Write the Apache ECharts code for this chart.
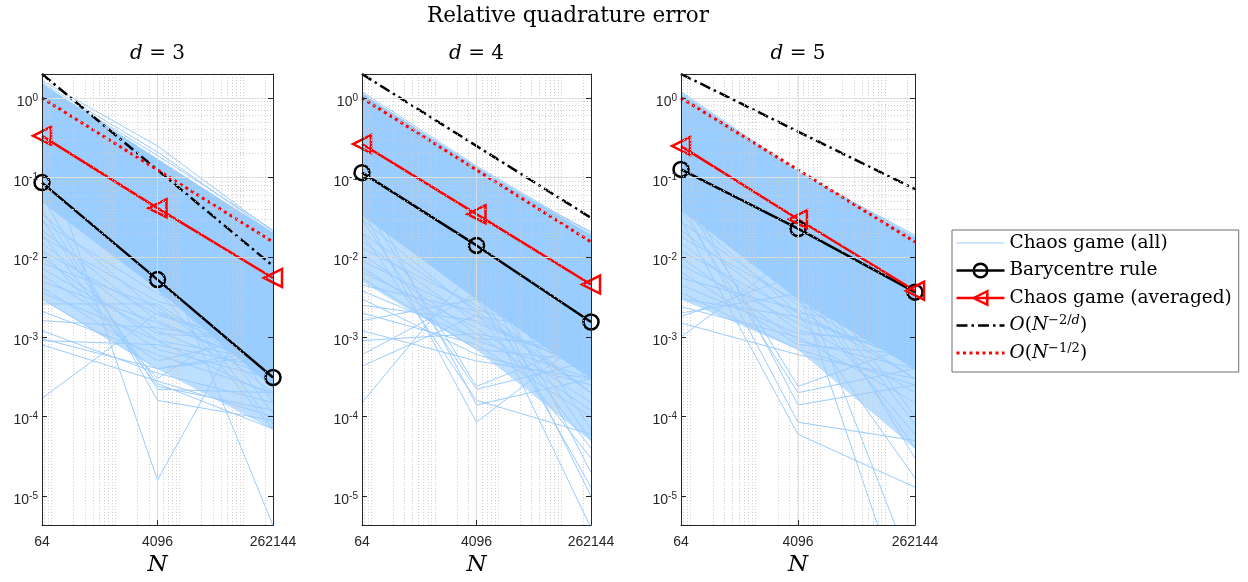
<!DOCTYPE html>
<html>
<head>
<meta charset="utf-8">
<script src="https://cdn.jsdelivr.net/npm/echarts@6/dist/echarts.min.js"></script>
<style>
html,body{margin:0;padding:0;background:#fff;}
#chart{width:1248px;height:582px;}
</style>
</head>
<body>
<div id="chart"></div>
<script>
// ---------------- data ----------------
const N_VALUES = [64, 4096, 262144];
const X_TICK_LABELS = ['64', '4096', '262144'];
const X_MAJOR_GRID = [4096];
const Y_DECADES = [1e-5, 1e-4, 1e-3, 1e-2, 1e-1, 1];
const X_DECADES = [10, 100, 1000, 10000, 100000];
const Y_MINOR_DECADES = [1e-6, 1e-5, 1e-4, 1e-3, 1e-2, 1e-1];
const MINOR_STEPS = [2, 3, 4, 5, 6, 7, 8, 9];
const X_MIN = 64, X_MAX = 262144;
const Y_MIN = 4.35e-6, Y_MAX = 2;
const DIMS = ['3', '4', '5'];

const BARY_D3 = [0.0866, 0.00525, 0.00031];
const BARY_D4 = [0.1155, 0.0141, 0.00154];
const BARY_D5 = [0.127, 0.0229, 0.00365];

const AVG_D3 = [0.335, 0.0414, 0.0055];
const AVG_D4 = [0.264, 0.0348, 0.00455];
const AVG_D5 = [0.249, 0.030, 0.0038];

const RATE_2D_D3 = [2.0, 0.125, 0.0078];
const RATE_2D_D4 = [2.0, 0.25, 0.03125];
const RATE_2D_D5 = [2.0, 0.379, 0.0718];
const RATE_HALF = [1.0, 0.125, 0.0156];

// dense core of the individual chaos-game runs (upper / lower edge) and the thinner lower fringe
const BAND_UPPER_D3 = [1.5, 0.17, 0.02];
const BAND_LOWER_D3 = [0.05, 0.004, 0.00023];
const FRINGE_LOWER_D3 = [0.003, 0.0004, 0.00007];
const BAND_UPPER_D4 = [1.12, 0.135, 0.019];
const BAND_LOWER_D4 = [0.034, 0.003, 0.0003];
const FRINGE_LOWER_D4 = [0.005, 0.0007, 0.00005];
const BAND_UPPER_D5 = [1.12, 0.115, 0.0175];
const BAND_LOWER_D5 = [0.04, 0.003, 0.0004];
const FRINGE_LOWER_D5 = [0.003, 0.0007, 0.00004];

// individual visible runs [N=64, N=4096, N=262144]
const RUNS_D3 = [
  [1.65, 0.25, 0.021], [1.55, 0.21, 0.020], [1.45, 0.19, 0.022],
  [0.035, 0.0021, 0.0006], [0.028, 0.0035, 0.0009], [0.022, 0.0016, 0.0004],
  [0.018, 0.0028, 0.0012], [0.015, 0.0012, 0.0003], [0.012, 0.0019, 0.0007],
  [0.010, 0.0009, 0.0005], [0.0085, 0.0024, 0.0002], [0.0072, 0.0011, 0.0009],
  [0.006, 0.0007, 0.0003], [0.005, 0.0015, 0.0004], [0.0042, 0.0005, 0.0011],
  [0.0036, 0.0009, 0.00018], [0.003, 0.0004, 0.0006], [0.0026, 0.0026, 0.0003],
  [0.0021, 0.0006, 0.0002], [0.0016, 0.0013, 0.0008], [0.0012, 0.00035, 0.00015],
  [0.0009, 0.0008, 0.0004], [0.00095, 0.0004, 0.0007], [0.0008, 0.00028, 0.0001],
  [0.00017, 0.002, 0.0005], [0.25, 0.000016, 0.0066], [0.05, 0.015, 0.0000043],
  [0.02, 0.00024, 0.00012], [0.04, 0.00022, 0.0002], [0.06, 0.00016, 0.00009],
  [0.03, 0.00026, 0.00007], [0.012, 0.0003, 0.0025], [0.08, 0.006, 0.00008],
  [0.1, 0.01, 0.00011], [0.2, 0.02, 0.00015], [0.15, 0.004, 0.00007]
];
const RUNS_D4 = [
  [1.2, 0.14, 0.02], [1.15, 0.12, 0.021],
  [0.02, 0.0022, 0.0009], [0.016, 0.0015, 0.0004], [0.013, 0.0025, 0.0002],
  [0.011, 0.0011, 0.0006], [0.009, 0.0018, 0.0011], [0.0075, 0.0009, 0.0003],
  [0.0066, 0.0013, 0.00015], [0.0055, 0.0007, 0.0005], [0.0045, 0.0021, 0.0002],
  [0.0038, 0.00095, 0.0008], [0.003, 0.0006, 0.00025], [0.0025, 0.0016, 0.0004],
  [0.002, 0.0008, 0.0001], [0.0016, 0.003, 0.0006], [0.0012, 0.0005, 0.0003],
  [0.0009, 0.0011, 0.00012], [0.0006, 0.0035, 0.0007], [0.00043, 0.0019, 0.0002],
  [0.00015, 0.008, 0.0005],
  [0.05, 0.00024, 0.0009], [0.03, 0.00022, 0.0005], [0.08, 0.00014, 0.0003],
  [0.04, 0.000085, 0.0011], [0.02, 0.00016, 0.00006],
  [0.1, 0.008, 0.00001], [0.06, 0.004, 0.000004], [0.15, 0.012, 0.00002],
  [0.07, 0.003, 0.00004], [0.2, 0.01, 0.00007], [0.05, 0.006, 0.00005],
  [0.09, 0.0045, 0.000013], [0.03, 0.002, 0.00003]
];
const RUNS_D5 = [
  [1.2, 0.12, 0.018], [1.15, 0.115, 0.019],
  [0.028, 0.0025, 0.001], [0.022, 0.0017, 0.0005], [0.018, 0.0028, 0.0003],
  [0.015, 0.0012, 0.0007], [0.012, 0.002, 0.0012], [0.01, 0.0009, 0.0004],
  [0.008, 0.0015, 0.0002], [0.0065, 0.0008, 0.0006], [0.0055, 0.0022, 0.0003],
  [0.0045, 0.0011, 0.0009], [0.0036, 0.0007, 0.00025], [0.003, 0.0018, 0.0005],
  [0.0024, 0.001, 0.00015], [0.002, 0.0035, 0.0007], [0.0015, 0.0006, 0.0003],
  [0.001, 0.012, 0.001], [0.0018, 0.006, 0.0004],
  [0.06, 0.00024, 0.0008], [0.04, 0.0002, 0.0004], [0.09, 0.00014, 0.00025],
  [0.03, 0.00006, 0.000013], [0.05, 0.000085, 0.00005],
  [0.1, 0.008, 0.00003], [0.08, 0.004, 0.00000018], [0.12, 0.006, 0.000001],
  [0.07, 0.003, 0.00006], [0.2, 0.01, 0.0001], [0.05, 0.005, 0.00004],
  [0.15, 0.007, 0.00008], [0.04, 0.002, 0.000017]
];

const PANELS = [
  {dim: DIMS[0], bary: BARY_D3, avg: AVG_D3, rate: RATE_2D_D3, half: RATE_HALF, upper: BAND_UPPER_D3, lower: BAND_LOWER_D3, fringe: FRINGE_LOWER_D3, runs: RUNS_D3},
  {dim: DIMS[1], bary: BARY_D4, avg: AVG_D4, rate: RATE_2D_D4, half: RATE_HALF, upper: BAND_UPPER_D4, lower: BAND_LOWER_D4, fringe: FRINGE_LOWER_D4, runs: RUNS_D4},
  {dim: DIMS[2], bary: BARY_D5, avg: AVG_D5, rate: RATE_2D_D5, half: RATE_HALF, upper: BAND_UPPER_D5, lower: BAND_LOWER_D5, fringe: FRINGE_LOWER_D5, runs: RUNS_D5}
];

// ---------------- layout / style ----------------
const GRID_BOXES = [[42, 231], [362, 229], [681, 234]];
const GRID_TOP = 74, GRID_H = 453;
const BLUE = '#99ccff', FRINGE = '#bcdeff', RED = '#ff0000', BLACK = '#000000', AXIS = '#262626';
const SERIF = 'DejaVu Serif', SANS = 'Liberation Sans';
const NAME_ALL = 'Chaos game (all)', NAME_BARY = 'Barycentre rule', NAME_AVG = 'Chaos game (averaged)';
const NAME_RATE = 'O(N^-2/d)', NAME_HALF = 'O(N^-1/2)';
const LEGEND_TEXT = {};
LEGEND_TEXT[NAME_ALL] = NAME_ALL;
LEGEND_TEXT[NAME_BARY] = NAME_BARY;
LEGEND_TEXT[NAME_AVG] = NAME_AVG;
LEGEND_TEXT[NAME_RATE] = '{it|O}{rm|(}{it|N}{sup|\u22122/}{supi|d}{rm|)}';
LEGEND_TEXT[NAME_HALF] = '{it|O}{rm|(}{it|N}{sup|\u22121/2}{rm|)}';

const MAJOR_STYLE = {color: '#e0e0e0', width: 1, type: 'solid'};
const MINOR_STYLE = {color: '#cdcdcd', width: 1, type: [1, 2]};

const yMinor = [];
Y_MINOR_DECADES.forEach(d => MINOR_STEPS.forEach(s => { const v = d * s; if (v > Y_MIN && v < Y_MAX) yMinor.push(v); }));
const xMinor = [];
X_DECADES.forEach(d => MINOR_STEPS.forEach(s => { const v = d * s; if (v > X_MIN && v < X_MAX) xMinor.push(v); }));

function pts(vals) { return N_VALUES.map((n, i) => [n, vals[i]]); }

function yLabel(v) {
  const l = Math.log10(v);
  const e = Math.round(l);
  if (Math.abs(l - e) > 1e-6) return '';
  return '{b|10}{s|' + (e < 0 ? '-' + (-e) : '' + e) + '}';
}

function bandSeries(name, xi, yi, top, bottom, color) {
  return {type: 'custom', name: name, xAxisIndex: xi, yAxisIndex: yi, z: 2, silent: true, clip: true,
    data: [[4096, 0.01]],
    renderItem: function (params, api) {
      const poly = N_VALUES.map((n, i) => api.coord([n, top[i]]));
      for (let i = N_VALUES.length - 1; i >= 0; i--) poly.push(api.coord([N_VALUES[i], bottom[i]]));
      return {type: 'polygon', shape: {points: poly}, style: {fill: color, stroke: color, lineWidth: 1}};
    }};
}

const grids = [], xAxes = [], yAxes = [], series = [], graphics = [];

graphics.push({type: 'text', x: 568, y: 16, silent: true,
  style: {text: 'Relative quadrature error', fontFamily: SERIF, fontSize: 21.5, fill: '#000', align: 'center', verticalAlign: 'middle'}});

PANELS.forEach((p, g) => {
  const left = GRID_BOXES[g][0], width = GRID_BOXES[g][1];
  grids.push({left: left, top: GRID_TOP, width: width, height: GRID_H, containLabel: false, show: false});
  graphics.push({type: 'text', x: left + width / 2, y: 54, silent: true,
    style: {text: '{i|d} = ' + p.dim, fontFamily: SERIF, fontSize: 20, fill: '#000', align: 'center', verticalAlign: 'middle',
      rich: {i: {fontFamily: SERIF, fontStyle: 'italic', fontSize: 20, fill: '#000'}}}});

  xAxes.push({type: 'log', logBase: 10, gridIndex: g, position: 'top', min: X_MIN, max: X_MAX, z: 10,
    axisLine: {show: true, onZero: false, lineStyle: {color: AXIS, width: 1}},
    axisTick: {show: false}, axisLabel: {show: false}, splitLine: {show: false},
    minorTick: {show: false}, minorSplitLine: {show: false}});
  xAxes.push({type: 'category', gridIndex: g, position: 'bottom', data: X_TICK_LABELS, boundaryGap: false, z: 10,
    axisLine: {show: true, onZero: false, lineStyle: {color: AXIS, width: 1}},
    axisTick: {show: true, inside: true, length: 5, interval: 0, lineStyle: {color: AXIS}},
    axisLabel: {show: true, interval: 0, margin: 10, color: AXIS, fontFamily: SANS, fontSize: 14},
    splitLine: {show: false},
    name: 'N', nameLocation: 'middle', nameGap: 27,
    nameTextStyle: {fontFamily: SERIF, fontStyle: 'italic', fontSize: 23, color: '#000'}});

  const yCommon = {type: 'log', logBase: 10, gridIndex: g, min: Y_MIN, max: Y_MAX, splitNumber: 6, z: 10,
    axisLine: {show: true, onZero: false, lineStyle: {color: AXIS, width: 1}},
    axisTick: {show: true, inside: true, length: 5, lineStyle: {color: AXIS}},
    splitLine: {show: false}, minorTick: {show: false}, minorSplitLine: {show: false}};
  yAxes.push(Object.assign({}, yCommon, {position: 'left',
    axisLabel: {show: true, margin: 4, formatter: yLabel, color: AXIS,
      rich: {
        b: {fontFamily: SANS, fontSize: 14, color: AXIS, lineHeight: 14, verticalAlign: 'bottom'},
        s: {fontFamily: SANS, fontSize: 10, color: AXIS, lineHeight: 22, verticalAlign: 'middle'}
      }}}));
  yAxes.push(Object.assign({}, yCommon, {position: 'right', axisLabel: {show: false}}));

  const xi = 2 * g, yi = 2 * g;

  const gl = [];
  Y_DECADES.forEach(v => gl.push({yAxis: v, lineStyle: MAJOR_STYLE}));
  yMinor.forEach(v => gl.push({yAxis: v, lineStyle: MINOR_STYLE}));
  X_MAJOR_GRID.forEach(v => gl.push({xAxis: v, lineStyle: MAJOR_STYLE}));
  xMinor.forEach(v => gl.push({xAxis: v, lineStyle: MINOR_STYLE}));
  series.push({type: 'line', name: 'grid', xAxisIndex: xi, yAxisIndex: yi, data: [[4096, 1]], symbol: 'none',
    lineStyle: {opacity: 0}, silent: true, z: 1,
    markLine: {silent: true, symbol: ['none', 'none'], label: {show: false}, emphasis: {disabled: true}, animation: false, data: gl}});

  series.push(bandSeries('fringe', xi, yi, p.lower, p.fringe, FRINGE));
  series.push(bandSeries('band', xi, yi, p.upper, p.lower, BLUE));

  p.runs.forEach(r => series.push({type: 'line', name: NAME_ALL, xAxisIndex: xi, yAxisIndex: yi, z: 2, silent: true,
    data: pts(r), symbol: 'none', itemStyle: {color: 'rgba(0,0,0,0)', borderWidth: 0},
    lineStyle: {color: BLUE, width: 1}, emphasis: {disabled: true}}));

  series.push({type: 'line', name: NAME_BARY, xAxisIndex: xi, yAxisIndex: yi, z: 3, data: pts(p.bary),
    symbol: 'circle', symbolSize: 15, showSymbol: true,
    itemStyle: {color: 'rgba(0,0,0,0)', borderColor: BLACK, borderWidth: 2.5},
    lineStyle: {color: BLACK, width: 2.5}, emphasis: {disabled: true}});
  series.push({type: 'line', name: NAME_AVG, xAxisIndex: xi, yAxisIndex: yi, z: 3, data: pts(p.avg),
    symbol: 'triangle', symbolRotate: 90, symbolSize: 18, showSymbol: true,
    itemStyle: {color: 'rgba(0,0,0,0)', borderColor: RED, borderWidth: 2.5},
    lineStyle: {color: RED, width: 2.5}, emphasis: {disabled: true}});
  series.push({type: 'line', name: NAME_RATE, xAxisIndex: xi, yAxisIndex: yi, z: 3, data: pts(p.rate),
    symbol: 'none', itemStyle: {color: 'rgba(0,0,0,0)', borderWidth: 0},
    lineStyle: {color: BLACK, width: 2.5, type: [11, 4, 2.5, 4], cap: 'butt'}, emphasis: {disabled: true}});
  series.push({type: 'line', name: NAME_HALF, xAxisIndex: xi, yAxisIndex: yi, z: 3, data: pts(p.half),
    symbol: 'none', itemStyle: {color: 'rgba(0,0,0,0)', borderWidth: 0},
    lineStyle: {color: RED, width: 3, type: [3, 3.5], cap: 'butt'}, emphasis: {disabled: true}});
});

const option = {
  animation: false,
  backgroundColor: '#ffffff',
  grid: grids,
  xAxis: xAxes,
  yAxis: yAxes,
  graphic: graphics,
  legend: {
    data: [NAME_ALL, NAME_BARY, NAME_AVG, NAME_RATE, NAME_HALF],
    orient: 'vertical', left: 952, top: 230,
    padding: [2, 7, 8, 3],
    itemWidth: 48, itemHeight: 17, itemGap: 5.5,
    backgroundColor: '#ffffff', borderColor: '#6e6e6e', borderWidth: 1, borderRadius: 0,
    selectedMode: false,
    itemStyle: {borderWidth: 'inherit'},
    lineStyle: {width: 'inherit'},
    formatter: name => LEGEND_TEXT[name] || name,
    textStyle: {fontFamily: SERIF, fontSize: 18.5, color: '#000', lineHeight: 22,
      rich: {
        it: {fontFamily: SERIF, fontStyle: 'italic', fontSize: 18.5, lineHeight: 22, color: '#000'},
        rm: {fontFamily: SERIF, fontSize: 18.5, lineHeight: 22, color: '#000'},
        sup: {fontFamily: SERIF, fontSize: 13, lineHeight: 12, verticalAlign: 'top', color: '#000'},
        supi: {fontFamily: SERIF, fontStyle: 'italic', fontSize: 13, lineHeight: 12, verticalAlign: 'top', color: '#000'}
      }}
  },
  series: series
};

const chart = echarts.init(document.getElementById('chart'), null, {renderer: 'canvas'});
chart.setOption(option);
</script>
</body>
</html>
